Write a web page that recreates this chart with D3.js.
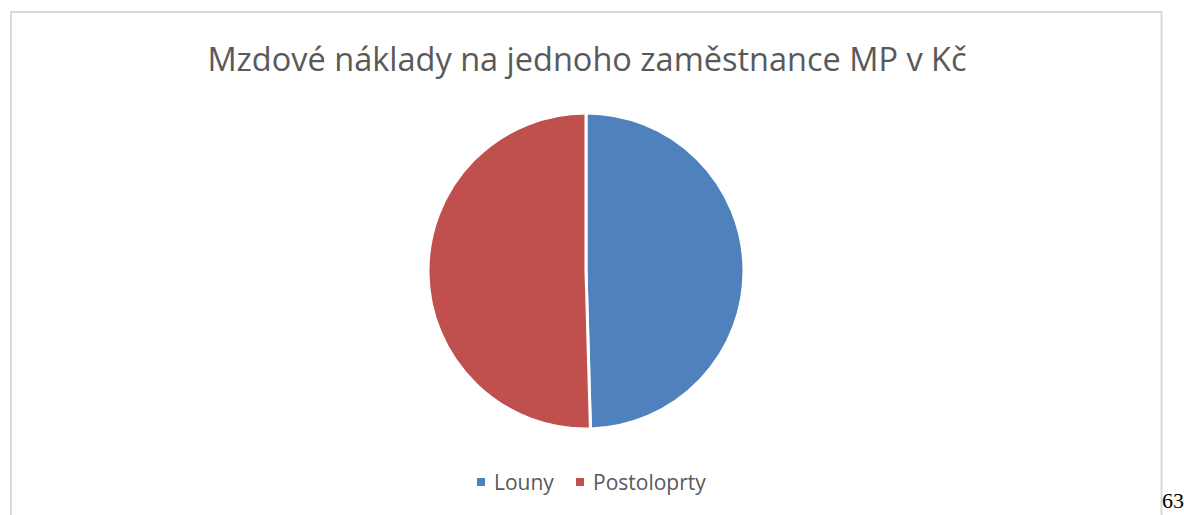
<!DOCTYPE html>
<html>
<head>
<meta charset="utf-8">
<script src="https://cdn.jsdelivr.net/npm/d3@7"></script>
<style>
  body { margin: 0; background: #fff; }
  svg { display: block; }
</style>
</head>
<body>
<div id="viz"></div>
<script>
// chart data
var categories = ["Louny", "Postoloprty"];
var values = [365000, 371600];
var colors = ["#4F81BD", "#C0504D"];
var title = "Mzdové náklady na jednoho zaměstnance MP v Kč";
var pageNumber = "63";

var width = 1184, height = 515;

var svg = d3.select("#viz").append("svg")
  .attr("width", width)
  .attr("height", height);

// chart area frame (only left, top, right edges visible)
svg.append("path")
  .attr("d", "M11,520 L11,12 L1161.5,12 L1161.5,520")
  .attr("fill", "none")
  .attr("stroke", "#d9d9d9")
  .attr("stroke-width", 2);

// title
svg.append("text")
  .attr("x", 587)
  .attr("y", 71)
  .attr("text-anchor", "middle")
  .attr("font-family", "'Open Sans', sans-serif")
  .attr("font-size", 32.5)
  .attr("fill", "#595959")
  .text(title);

// pie
var cx = 586, cy = 271, r = 158;
var pie = d3.pie().sort(null).value(function(d) { return d; });
var arc = d3.arc().innerRadius(0).outerRadius(r);

var g = svg.append("g").attr("transform", "translate(" + cx + "," + cy + ")");
g.selectAll("path.slice")
  .data(pie(values))
  .enter()
  .append("path")
  .attr("class", "slice")
  .attr("d", arc)
  .attr("fill", function(d, i) { return colors[i]; })
  .attr("stroke", "#fff")
  .attr("stroke-width", 3)
  .attr("stroke-linejoin", "round");

// legend
var legendX = [477, 576];
var legend = svg.selectAll("g.legend")
  .data(categories)
  .enter()
  .append("g")
  .attr("class", "legend")
  .attr("transform", function(d, i) { return "translate(" + legendX[i] + ",478)"; });

legend.append("rect")
  .attr("width", 8)
  .attr("height", 8)
  .attr("fill", function(d, i) { return colors[i]; });

legend.append("text")
  .attr("x", 17)
  .attr("y", 12)
  .attr("font-family", "'Open Sans', sans-serif")
  .attr("font-size", 21)
  .attr("fill", "#595959")
  .text(function(d) { return d; });

// page number
svg.append("text")
  .attr("x", 1162)
  .attr("y", 508)
  .attr("font-family", "'Liberation Serif', serif")
  .attr("font-size", 22)
  .attr("fill", "#000")
  .text(pageNumber);
</script>
</body>
</html>
